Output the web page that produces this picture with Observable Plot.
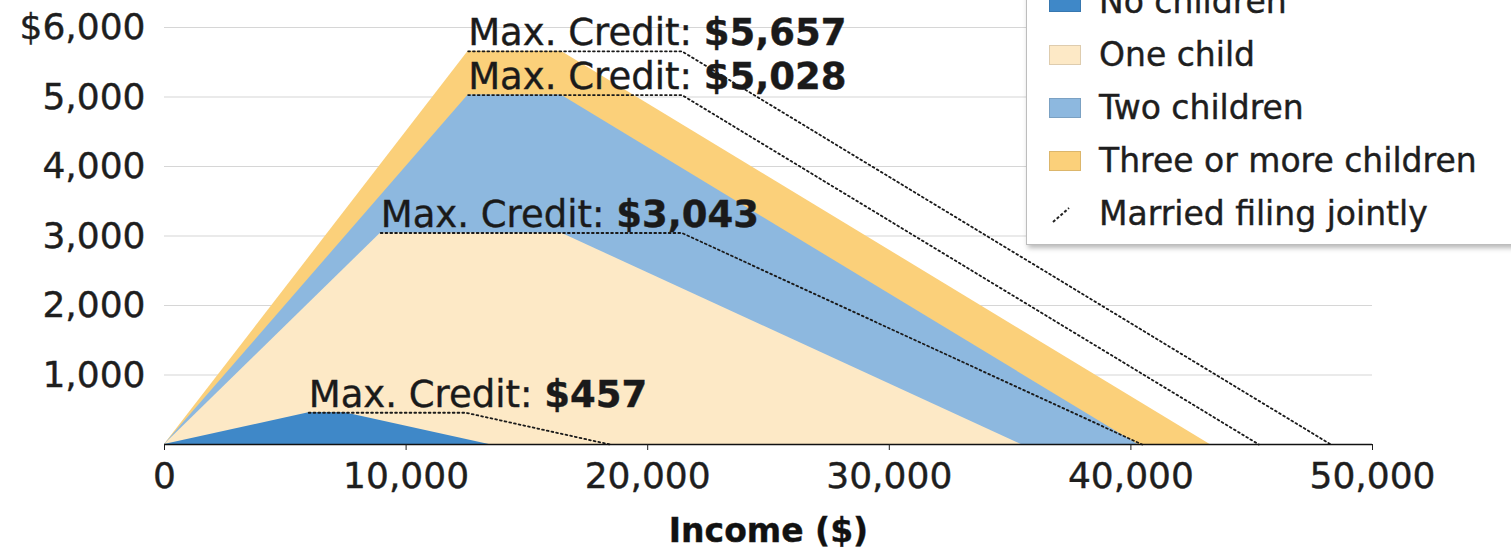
<!DOCTYPE html>
<html>
<head>
<meta charset="utf-8">
<script src="https://cdn.jsdelivr.net/npm/d3@7"></script>
<script src="https://cdn.jsdelivr.net/npm/@observablehq/plot@0.6"></script>
<style>
  html, body { margin: 0; padding: 0; background: #fff; }
  #wrap { position: relative; width: 1511px; height: 552px; overflow: hidden; font-family: "DejaVu Sans", sans-serif; color: #222; }
  #legend { position: absolute; left: 1026px; top: -36px; width: 490px; padding: 10px 0 4px 0; background: #fff; border: 1px solid #bdbdbd; box-shadow: 2px 3px 5px rgba(0,0,0,0.28); }
  .row { height: 53px; display: flex; align-items: center; font-size: 33px; color: #1e1e1e; -webkit-text-stroke: 0.4px #1e1e1e; }
  .sw { width: 32px; height: 20px; margin-left: 22px; margin-right: 18px; box-sizing: border-box; border: 1px solid rgba(0,0,0,0.12); }
  .swl { width: 32px; height: 20px; margin-left: 22px; margin-right: 18px; }
  #chart svg text { stroke: #1e1e1e; stroke-width: 0.4px; }
</style>
</head>
<body>
<div id="wrap">
  <div id="chart"></div>
  <div id="legend"></div>
</div>
<script>
// ---- Data (EITC schedule) ----
const categories = ["No children", "One child", "Two children", "Three or more children"];
const phaseInEnd = [5970, 8950, 12570, 12570];
const maxCredit = [457, 3043, 5028, 5657];
const phaseOutStartSingle = [7470, 16420, 16420, 16420];
const phaseOutEndSingle = [13440, 35463, 40295, 43279];
const phaseOutStartMarried = [12470, 21420, 21420, 21420];
const phaseOutEndMarried = [18440, 40463, 45295, 48279];
const colors = ["#3f88c8", "#fde9c6", "#8db8df", "#fbd07a"];
const xTicks = [0, 10000, 20000, 30000, 40000, 50000];
const yTicks = [1000, 2000, 3000, 4000, 5000, 6000];
const legendLabels = ["No children", "One child", "Two children", "Three or more children", "Married filing jointly"];

// ---- Build tables ----
const singleRows = categories.flatMap((c, i) => [
  {cat: c, income: 0, credit: 0},
  {cat: c, income: phaseInEnd[i], credit: maxCredit[i]},
  {cat: c, income: phaseOutStartSingle[i], credit: maxCredit[i]},
  {cat: c, income: phaseOutEndSingle[i], credit: 0}
]);
const marriedRows = categories.flatMap((c, i) => [
  {cat: c, income: phaseInEnd[i], credit: maxCredit[i]},
  {cat: c, income: phaseOutStartMarried[i], credit: maxCredit[i]},
  {cat: c, income: phaseOutEndMarried[i], credit: 0}
]);
const labelRows = categories.map((c, i) => ({cat: c, income: phaseInEnd[i], credit: maxCredit[i]}));

const drawOrder = [3, 2, 1, 0];
const areaMarks = drawOrder.map(i =>
  Plot.areaY(singleRows.filter(d => d.cat === categories[i]), {x: "income", y: "credit", fill: colors[i]})
);

const fmt = d3.format(",");
const plot = Plot.plot({
  width: 1511,
  height: 552,
  marginLeft: 164,
  marginRight: 139,
  marginTop: 27,
  marginBottom: 108,
  style: {fontFamily: "DejaVu Sans, sans-serif", color: "#1e1e1e", background: "#fff"},
  x: {domain: [0, 50000]},
  y: {domain: [0, 6000]},
  marks: [
    Plot.gridY(yTicks, {stroke: "#d6d6d6", strokeOpacity: 1, strokeWidth: 1.2}),
    ...areaMarks,
    Plot.line(marriedRows, {x: "income", y: "credit", z: "cat", stroke: "#1a1a1a", strokeWidth: 1.8, strokeDasharray: "1.8,3"}),
    Plot.text(labelRows, {
      x: "income", y: "credit",
      text: d => `Max. Credit: $${fmt(d.credit)}`,
      textAnchor: "start", lineAnchor: "bottom", dy: -6,
      fontSize: 37, fill: "#1a1a1a", className: "maxlabel"
    }),
    Plot.ruleY([0], {stroke: "#111", strokeWidth: 1.6}),
    Plot.axisY(yTicks, {tickSize: 0, tickPadding: 19, fontSize: 36, tickFormat: d => d === 6000 ? "$6,000" : fmt(d), label: null}),
    Plot.axisX(xTicks, {tickSize: 6, tickPadding: 12, fontSize: 36, tickFormat: fmt, label: null}),
    Plot.text(["Income ($)"], {frameAnchor: "bottom", dy: 87, lineAnchor: "middle", fontSize: 33, fontWeight: "bold", fill: "#111"})
  ]
});
document.getElementById("chart").appendChild(plot);

// Bold the value part of each "Max. Credit" label
d3.select(plot).selectAll(".maxlabel text").each(function() {
  const t = this.textContent;
  const k = t.indexOf("$");
  const sel = d3.select(this);
  sel.text(null);
  sel.append("tspan").text(t.slice(0, k));
  sel.append("tspan").attr("font-weight", "bold").text(t.slice(k));
});

// ---- Legend ----
const legend = d3.select("#legend");
legendLabels.forEach((lab, i) => {
  const row = legend.append("div").attr("class", "row");
  if (i < colors.length) {
    row.append("div").attr("class", "sw").style("background", colors[i]);
  } else {
    const s = row.append("svg").attr("class", "swl").attr("width", 32).attr("height", 20);
    s.append("line").attr("x1", 4).attr("y1", 18).attr("x2", 20).attr("y2", 4)
      .attr("stroke", "#222").attr("stroke-width", 2).attr("stroke-dasharray", "3,2");
  }
  row.append("span").text(lab);
});
</script>
</body>
</html>
